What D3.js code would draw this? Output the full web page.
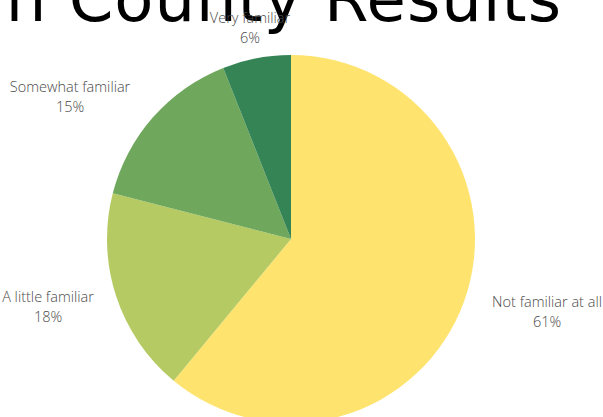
<!DOCTYPE html>
<html>
<head>
<meta charset="utf-8">
<script src="https://cdn.jsdelivr.net/npm/d3@7"></script>
<style>
  html, body { margin: 0; padding: 0; background: #fff; overflow: hidden; }
  svg { display: block; }
</style>
</head>
<body>
<svg id="chart" width="603" height="417"></svg>
<script>
// Familiarity responses, in clockwise order from 12 o'clock
const categories = ["Not familiar at all", "A little familiar", "Somewhat familiar", "Very familiar"];
const percents = [61, 18, 15, 6];
const colors = ["#FEE46E", "#B5CA62", "#6FA85C", "#358456"];
const titleText = "Calhoun County Results";

const width = 603, height = 417;
const cx = 291, cy = 239, radius = 184;

const svg = d3.select("#chart");

// Title (runs past the left and top edges of the page)
svg.append("text")
  .attr("x", 562)
  .attr("y", 21)
  .attr("text-anchor", "end")
  .attr("font-family", "'DejaVu Sans', sans-serif")
  .attr("font-size", 64)
  .attr("letter-spacing", 1)
  .attr("fill", "#000")
  .text(titleText);

const data = categories.map((c, i) => ({ category: c, value: percents[i] }));

const color = d3.scaleOrdinal().domain(categories).range(colors);

const pie = d3.pie()
  .value(d => d.value)
  .sort(null)
  .startAngle(0)
  .endAngle(2 * Math.PI);

const arc = d3.arc().innerRadius(0).outerRadius(radius);

const g = svg.append("g").attr("transform", `translate(${cx},${cy})`);

const arcs = pie(data);

g.selectAll("path.slice")
  .data(arcs)
  .join("path")
  .attr("class", "slice")
  .attr("d", arc)
  .attr("fill", d => color(d.data.category));

// Label placement relative to the pie centre: [centre x, first-line baseline]
const labelOffset = {
  "Not familiar at all": [256, 68],
  "A little familiar": [-243, 63],
  "Somewhat familiar": [-221, -147],
  "Very familiar": [-41, -216]
};

const labels = svg.append("g")
  .attr("font-family", "'Open Sans', sans-serif")
  .attr("font-weight", 300)
  .attr("font-size", 14.5)
  .attr("fill", "#4a4a4a")
  .attr("text-anchor", "middle");

arcs.forEach(a => {
  const [dx, dy] = labelOffset[a.data.category];
  const t = labels.append("text")
    .attr("transform", `translate(${cx + dx},${cy + dy})`);
  t.append("tspan").attr("x", 0).attr("y", 0).text(a.data.category);
  t.append("tspan").attr("x", 0).attr("y", 20).text(d3.format("d")(a.data.value) + "%");
});
</script>
</body>
</html>
